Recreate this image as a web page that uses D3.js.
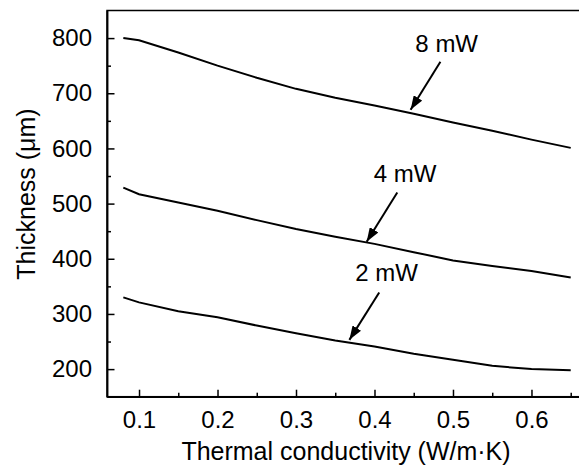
<!DOCTYPE html>
<html>
<head>
<meta charset="utf-8">
<script src="https://cdn.jsdelivr.net/npm/d3@7"></script>
<style>
	body { margin: 0; background: #fff; }
	svg text { font-family: "Liberation Sans", Arial, sans-serif; fill: #000; }
</style>
</head>
<body>
<div id="chart"></div>
<script>
(function () {

	'use strict';

	// thermal conductivity (W/m.K)
	var conductivity = [0.08, 0.1, 0.15, 0.2, 0.25, 0.3, 0.35, 0.4, 0.45, 0.5, 0.55, 0.6, 0.65];
	// thickness (um) per power
	var thick8mW = [800, 796, 774, 750, 728, 708, 692, 678, 663, 647, 632, 616, 601];
	var thick4mW = [529, 517, 502, 487, 470, 454, 440, 427, 412, 397, 387, 378, 366];
	var thick2mW = [330, 321, 305, 294, 279, 265, 252, 241, 228, 217, 206, 200, 198];

	var seriesLabels = ['8 mW', '4 mW', '2 mW'];
	// label anchor, arrow tail, arrow tip (data units)
	var labelX = [0.492, 0.439, 0.4155];
	var labelY = [775, 540, 359];
	var arrowFromX = [0.484, 0.429, 0.406];
	var arrowFromY = [757, 520, 339];
	var arrowToX = [0.446, 0.390, 0.368];
	var arrowToY = [670, 431, 253];

	var xTicks = [0.1, 0.2, 0.3, 0.4, 0.5, 0.6];
	var xMinor = [0.15, 0.25, 0.35, 0.45, 0.55, 0.65];
	var yTicks = [200, 300, 400, 500, 600, 700, 800];
	var yMinor = [250, 350, 450, 550, 650, 750];

	var width = 579;
	var height = 471;
	var left = 107;
	var top = 10.5;
	var right = 581;
	var bottom = 396.7;

	var svg = d3.select('#chart')
		.append('svg')
		.attr('width', width)
		.attr('height', height);

	var x = d3.scaleLinear().domain([0.0592, 0.6631]).range([left, right]);
	var y = d3.scaleLinear().domain([150, 850]).range([bottom, top]);

	svg.append('defs').append('marker')
		.attr('id', 'head')
		.attr('markerUnits', 'userSpaceOnUse')
		.attr('viewBox', '0 0 14 10')
		.attr('refX', 14)
		.attr('refY', 5)
		.attr('markerWidth', 14)
		.attr('markerHeight', 10)
		.attr('orient', 'auto')
		.append('path')
		.attr('d', 'M0,0L14,5L0,10Z')
		.attr('fill', '#000');

	// frame
	svg.append('rect')
		.attr('x', left)
		.attr('y', top)
		.attr('width', right - left)
		.attr('height', bottom - top)
		.attr('fill', 'none')
		.attr('stroke', '#000')
		.attr('stroke-width', 1.5);

	var xAxis = svg.append('g')
		.attr('transform', 'translate(0,' + bottom + ')')
		.call(d3.axisBottom(x).tickValues(xTicks).tickSizeInner(-7).tickSizeOuter(0).tickPadding(14).tickFormat(d3.format('.1f')));
	svg.append('g')
		.attr('transform', 'translate(0,' + bottom + ')')
		.call(d3.axisBottom(x).tickValues(xMinor).tickSizeInner(-4).tickSizeOuter(0).tickFormat(''));

	var yAxis = svg.append('g')
		.attr('transform', 'translate(' + left + ',0)')
		.call(d3.axisLeft(y).tickValues(yTicks).tickSizeInner(-7.5).tickSizeOuter(0).tickPadding(15));
	svg.append('g')
		.attr('transform', 'translate(' + left + ',0)')
		.call(d3.axisLeft(y).tickValues(yMinor).tickSizeInner(-4).tickSizeOuter(0).tickFormat(''));

	svg.selectAll('.domain').attr('stroke', '#000').attr('stroke-width', 1.5);
	svg.selectAll('.tick line').attr('stroke', '#000').attr('stroke-width', 1.5);
	xAxis.selectAll('text').attr('font-size', 24).attr('font-family', null);
	yAxis.selectAll('text').attr('font-size', 24).attr('font-family', null);

	var line = d3.line()
		.x(function (d) { return x(d[0]); })
		.y(function (d) { return y(d[1]); });

	[thick8mW, thick4mW, thick2mW].forEach(function (values) {
		var pts = conductivity.map(function (c, i) { return [c, values[i]]; });
		svg.append('path')
			.attr('d', line(pts))
			.attr('fill', 'none')
			.attr('stroke', '#000')
			.attr('stroke-width', 2);
	});

	seriesLabels.forEach(function (label, i) {
		svg.append('text')
			.attr('x', x(labelX[i]))
			.attr('y', y(labelY[i]))
			.attr('text-anchor', 'middle')
			.attr('font-size', 24)
			.text(label);
		svg.append('line')
			.attr('x1', x(arrowFromX[i]))
			.attr('y1', y(arrowFromY[i]))
			.attr('x2', x(arrowToX[i]))
			.attr('y2', y(arrowToY[i]))
			.attr('stroke', '#000')
			.attr('stroke-width', 2)
			.attr('marker-end', 'url(#head)');
	});

	svg.append('text')
		.attr('x', 346)
		.attr('y', 460)
		.attr('text-anchor', 'middle')
		.attr('font-size', 25)
		.text('Thermal conductivity (W/m\u00b7K)');

	svg.append('text')
		.attr('transform', 'translate(35,194) rotate(-90)')
		.attr('text-anchor', 'middle')
		.attr('font-size', 25)
		.text('Thickness (\u03bcm)');

})();
</script>
</body>
</html>
